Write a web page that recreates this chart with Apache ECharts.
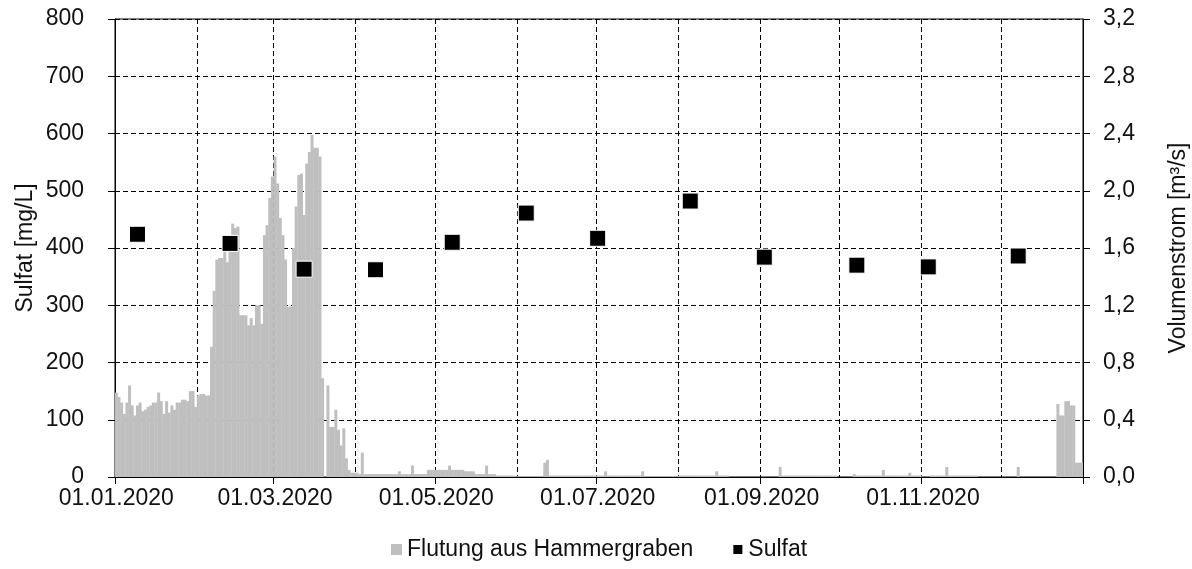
<!DOCTYPE html>
<html>
<head>
<meta charset="utf-8">
<script src="https://cdn.jsdelivr.net/npm/echarts@6/dist/echarts.min.js"></script>
<style>
html,body{margin:0;padding:0;background:#fff;}
#chart{width:1192px;height:569px;}
</style>
</head>
<body>
<div id="chart"></div>
<script>
// Daily flow (Volumenstrom, m³/s) per month of 2020
const flowJan = [0.59,0.56,0.52,0.44,0.52,0.64,0.50,0.43,0.50,0.52,0.46,0.47,0.49,0.50,0.52,0.52,0.59,0.53,0.44,0.53,0.45,0.50,0.47,0.52,0.52,0.54,0.54,0.53,0.60,0.60,0.49];
const flowFeb = [0.57,0.58,0.58,0.57,0.57,0.91,1.30,1.52,1.53,1.53,1.58,1.50,1.58,1.77,1.74,1.75,1.13,1.13,1.13,1.06,1.11,1.06,1.20,1.20,1.07,1.69,1.76,1.95,2.10];
const flowMar = [2.24,2.05,1.81,1.69,1.52,1.19,1.19,1.60,1.89,2.11,2.12,1.83,2.19,2.27,2.39,2.30,2.30,2.24,0.69,0,0.64,0.35,0.35,0.47,0.33,0.22,0.34,0.13,0.05,0.03,0.03];
const flowApr = [0.03,0.02,0.17,0.02,0.02,0.02,0.02,0.02,0.02,0.02,0.02,0.02,0.02,0.02,0.02,0.02,0.04,0.02,0.02,0.02,0.02,0.08,0.02,0.02,0.02,0.02,0.02,0.05,0.05,0.05];
const flowMay = [0.05,0.05,0.05,0.05,0.05,0.08,0.05,0.05,0.05,0.05,0.05,0.04,0.04,0.04,0.04,0.02,0.02,0.02,0.02,0.08,0.02,0.02,0.02,0.01,0.01,0.01,0.01,0.01,0.01,0.01,0.005];
const flowJun = [0.005,0.005,0.005,0.005,0.005,0.005,0.005,0.005,0.005,0.005,0.10,0.12,0.01,0.01,0.01,0.01,0.01,0.01,0.01,0.01,0.01,0.01,0.01,0.01,0.01,0.01,0.01,0.01,0.01,0.01];
const flowJul = [0.01,0.01,0.01,0.04,0.01,0.01,0.01,0.01,0.01,0.01,0.01,0.01,0.01,0.01,0.01,0.01,0.01,0.04,0.005,0.005,0.005,0.005,0.005,0.005,0.005,0.005,0.005,0.005,0.005,0.005,0.005];
const flowAug = [0.01,0.01,0.01,0.01,0.01,0.01,0.01,0.01,0.01,0.01,0.01,0.01,0.01,0.01,0.04,0.01,0.01,0.01,0.01,0,0,0,0,0,0,0,0,0,0,0,0];
const flowSep = [0,0,0,0,0,0,0,0.07,0.01,0.01,0.01,0.01,0.01,0.01,0.01,0.01,0.01,0.01,0.01,0.01,0.01,0.01,0.01,0.01,0.01,0.01,0.01,0.01,0.01,0];
const flowOct = [0,0,0,0,0,0.02,0.01,0.01,0.01,0.01,0.01,0.01,0.01,0.01,0.01,0.01,0.05,0.01,0.01,0.01,0.01,0.01,0.01,0.01,0.01,0.01,0.03,0.01,0.01,0.01,0.01];
const flowNov = [0,0,0,0.01,0.01,0.01,0.01,0.01,0.01,0.07,0.01,0.01,0.01,0.01,0.01,0.01,0.01,0.01,0.01,0.01,0.01,0,0,0,0,0,0,0,0,0];
const flowDec = [0,0,0,0,0,0,0.07,0,0,0,0,0,0,0,0,0,0,0,0,0,0,0.51,0.43,0.43,0.53,0.53,0.50,0.50,0.10,0.10,0.10];

// Sulfate samples
const sulfatDates = ['09.01.2020','13.02.2020','12.03.2020','08.04.2020','07.05.2020','04.06.2020','01.07.2020','05.08.2020','02.09.2020','07.10.2020','03.11.2020','07.12.2020'];
const sulfatValues = [424,408,363,362,410,461,417,482,384,370,367,386];

// Day categories for 2020
const days = [];
for (let t = Date.UTC(2020,0,1); t < Date.UTC(2021,0,1); t += 86400000) {
  const d = new Date(t);
  const dd = String(d.getUTCDate()).padStart(2,'0');
  const mm = String(d.getUTCMonth()+1).padStart(2,'0');
  days.push(dd + '.' + mm + '.' + d.getUTCFullYear());
}
const flow = [].concat(flowJan,flowFeb,flowMar,flowApr,flowMay,flowJun,flowJul,flowAug,flowSep,flowOct,flowNov,flowDec);

const isMonthStart = (v) => v.slice(0,2) === '01';
const isOddMonthStart = (v) => isMonthStart(v) && parseInt(v.slice(3,5),10) % 2 === 1;

const font = 'Liberation Sans, Arial, sans-serif';
const txt = '#111';
const fs = 23;
const chart = echarts.init(document.getElementById('chart'), null, {renderer:'canvas'});
chart.setOption({
  animation: false,
  backgroundColor: '#fff',
  textStyle: {fontFamily: font},
  grid: {left: 115, right: 109, top: 19, bottom: 92, containLabel: false, outerBoundsMode: 'none',
         show: true, borderColor: '#000', borderWidth: 1, backgroundColor: 'transparent'},
  legend: {
    top: 533, left: 386, itemGap: 38, itemWidth: 11, itemHeight: 11,
    textStyle: {fontSize: fs, color: txt, fontFamily: font},
    data: [{name:'Flutung aus Hammergraben', icon:'rect'}, {name:'Sulfat', icon:'rect'}]
  },
  xAxis: {
    type: 'category', data: days, boundaryGap: true,
    axisLine: {lineStyle: {color: '#000', width: 1}},
    axisTick: {show: true, length: 7, interval: (i, v) => isOddMonthStart(v), lineStyle: {color: '#000'}},
    axisLabel: {interval: (i, v) => isOddMonthStart(v), fontSize: fs, color: txt, margin: 10, fontFamily: font},
    splitLine: {show: true, interval: (i, v) => isMonthStart(v) && i > 0, lineStyle: {color: '#000', type: [5,3], width: 1}}
  },
  yAxis: [
    {
      type: 'value', min: 0, max: 800, interval: 100,
      name: 'Sulfat [mg/L]', nameLocation: 'middle', nameGap: 78, nameRotate: 90, nameMoveOverlap: false,
      nameTextStyle: {fontSize: fs, color: txt, fontFamily: font},
      axisLine: {show: true, lineStyle: {color: '#000'}},
      axisTick: {show: true, length: 7, lineStyle: {color: '#000'}},
      axisLabel: {fontSize: fs, color: txt, margin: 31, fontFamily: font},
      splitLine: {show: true, lineStyle: {color: '#000', type: [5,3], width: 1}}
    },
    {
      type: 'value', min: 0, max: 3.2, interval: 0.4, position: 'right',
      name: 'Volumenstrom [m³/s]', nameLocation: 'middle', nameGap: 84, nameRotate: 90, nameMoveOverlap: false,
      nameTextStyle: {fontSize: fs, color: txt, fontFamily: font},
      axisLine: {show: true, lineStyle: {color: '#000'}},
      axisTick: {show: true, length: 7, lineStyle: {color: '#000'}},
      axisLabel: {fontSize: fs, color: txt, margin: 20, fontFamily: font, formatter: (v) => v.toFixed(1).replace('.', ',')},
      splitLine: {show: false}
    }
  ],
  series: [
    {
      name: 'Flutung aus Hammergraben', type: 'bar', yAxisIndex: 1,
      data: flow, barWidth: 3,
      itemStyle: {color: '#bfbfbf'}
    },
    {
      name: 'Sulfat', type: 'scatter', yAxisIndex: 0,
      data: sulfatDates.map((d, i) => [d, sulfatValues[i]]),
      symbol: 'rect', symbolSize: 16,
      itemStyle: {color: '#000', borderColor: '#fff', borderWidth: 1, opacity: 1},
      z: 5
    }
  ]
});
</script>
</body>
</html>
